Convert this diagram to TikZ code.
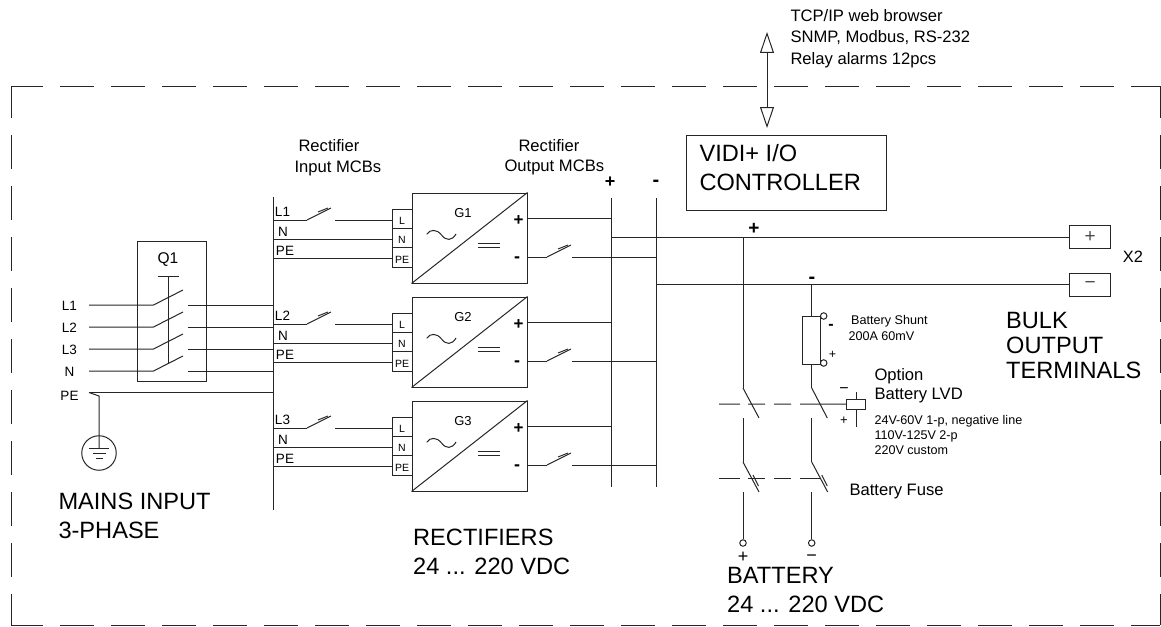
\documentclass[tikz,border=0pt]{standalone}
\usepackage{fontspec}
\usepackage{amsmath}
\usepackage{xcolor}
\usepackage{tikz}
\usetikzlibrary{arrows.meta}
\setmainfont{Liberation Sans}

\colorlet{wire}{black!85}
\tikzset{
	txt/.style={anchor=base west,inner sep=0pt,text=black},
	bigtxt/.style={txt,align=left,font=\fontsize{23.6}{29}\selectfont},
	midtxt/.style={txt,align=left,font=\fontsize{16.6}{21.5}\selectfont},
	smalltxt/.style={txt,align=left,font=\fontsize{12.6}{15}\selectfont},
	sign/.style={anchor=center,inner sep=0pt,font=\fontsize{#1}{#1}\selectfont},
	frame/.style={wire,dash pattern=on 34pt off 17pt,dash phase=2pt},
	tiedash/.style={wire,dash pattern=on 21pt off 8pt on 17pt off 9pt on 17pt off 9pt on 60pt},
	termbox/.style={draw=wire,inner sep=0pt,minimum width=20pt,minimum height=19.3pt,
		text height=11pt,text depth=0pt,font=\fontsize{10.5}{10.5}\selectfont},
	outbox/.style={draw=wire,inner sep=0pt,minimum width=40.5pt,minimum height=23pt,
		text=black!70,font=\fontsize{19}{19}\selectfont},
	conv/.style={draw=wire,inner sep=0pt,minimum width=115pt,minimum height=90pt},
	mcb/.pic={
		\draw[wire] (0,0) -- (24,-12);
		\draw[wire] (11,-8) -- (21,-12);
	},
	fuse/.pic={
		\draw[wire] (0,0) -- (16,30);
		\draw[wire] (10,13) -- (15.5,24);
	},
	port/.style={draw=wire,circle,inner sep=0pt,minimum size=6.5pt,fill=white},
}

\begin{document}
\begin{tikzpicture}[x=1pt,y=-1pt,line width=1pt,line cap=butt]
	\useasboundingbox (0,0) rectangle (1161,626);

	% enclosure
	\coordinate (tl) at (11,86);
	\coordinate (tr) at (1160,86);
	\coordinate (bl) at (11,625);
	\coordinate (br) at (1160,625);
	\draw[frame] (tl) -- (tr);
	\draw[frame] (bl) -- (br);
	\draw[frame] (tl) -- (bl);
	\draw[frame] (tr) -- (br);

	% controller
	\node[draw=wire,inner sep=0pt,minimum width=200.5pt,minimum height=74.5pt] (ctrl) at (786.4,173) {};
	\node[bigtxt,font=\fontsize{23.6}{28.5}\selectfont] (ctrltxt) at (699,190) {VIDI+ I/O\\CONTROLLER};
	\coordinate (ctrlport) at (767,128);
	\coordinate (netport) at (767,32);
	\draw[wire,{Triangle[open,length=21pt,width=14pt]}-{Triangle[open,length=21pt,width=14pt]}] (netport) -- (ctrlport);
	\node[midtxt] (nettxt) at (790,64) {TCP/IP web browser\\SNMP, Modbus, RS-232\\Relay alarms 12pcs};

	% mains breaker
	\node[draw=wire,inner sep=0pt,minimum width=69pt,minimum height=140pt] (qbox) at (171.5,311) {};
	\node[sign=15.5] (qlabel) at (168,260) {Q1};
	\coordinate (qbara) at (157.5,276);
	\coordinate (qbarb) at (179,276);
	\coordinate (qtop) at (168,276);
	\coordinate (qend) at (168,363);
	\draw[wire] (qbara) -- (qbarb);
	\draw[wire] (qtop) -- (qend);
	\coordinate (busintop) at (273,197);
	\coordinate (businend) at (273,510);
	\draw[wire] (busintop) -- (businend);
	\foreach \nm/\ypos in {L1/305,L2/327,L3/349,N/371}{
		\node[sign=13.5] (in\nm) at (69.5,\ypos+1) {\nm};
		\draw[wire] (89,\ypos) -- (153.5,\ypos) -- (183,\ypos-15);
		\draw[wire] (187.5,\ypos) -- (273,\ypos);
	}

	% earth
	\node[sign=13.5] (inPE) at (69.5,396) {PE};
	\coordinate (pestart) at (89,392.5);
	\coordinate (pebend) at (99,396);
	\coordinate (pebus) at (273,392.5);
	\node[draw=wire,circle,inner sep=0pt,minimum size=34.5pt] (earth) at (99,453) {};
	\draw[wire] (pestart) -- (pebend) -- (99,448);
	\draw[wire] (pestart) -- (pebus);
	\draw[wire] (89,448) -- (109,448);
	\draw[wire] (93,453) -- (105.5,453);
	\draw[wire] (96,458) -- (103,458);
	\node[bigtxt] (mainstxt) at (58,538) {MAINS INPUT\\3-PHASE};

	% rectifiers
	\node[midtxt] (inhead) at (298,151) {Rectifier};
	\node[midtxt] (inheadb) at (294,172) {Input MCBs};
	\node[midtxt] (outhead) at (518,151) {Rectifier};
	\node[midtxt] (outheadb) at (504,171) {Output MCBs};
	\foreach \row/\phase/\dy in {1/L1/0,2/L2/104,3/L3/208}{
		\begin{scope}[yshift=-\dy pt]
			\node[conv] (G\row) at (469.5,238) {};
			\draw[wire] (G\row.south west) -- (G\row.north east);
			\node[sign=13] (Gname\row) at (463,213) {G\row};
			\draw[wire] (426.7,234.3) .. controls (430,229) and (437,229) .. (441.5,235) .. controls (446,241) and (452,241) .. (456,234);
			\draw[wire] (478,243) -- (500,243);
			\draw[wire] (478,247) -- (500,247);
			\node[sign=17] (Gplus\row) at (518.5,220.5) {\textbf{+}};
			\node[sign=18] (Gminus\row) at (517,259.5) {\textbf{-}};
			% inputs
			\node[termbox] (tL\row) at (402,219) {L};
			\node[termbox] (tN\row) at (402,238.3) {N};
			\node[termbox] (tPE\row) at (402,257.6) {PE};
			\node[sign=13.5] (bL\row) at (282.5,212) {\phase};
			\node[sign=13.5] (bN\row) at (283,232) {N};
			\node[sign=13.5] (bPE\row) at (285,251) {PE};
			\draw[wire] (273,220) -- (307,220);
			\pic at (307,220) {mcb};
			\draw[wire] (335,220) -- (392,220);
			\draw[wire] (273,239) -- (392,239);
			\draw[wire] (273,258) -- (392,258);
			% outputs
			\draw[wire] (527,218) -- (611,218);
			\draw[wire] (527,257) -- (547,257);
			\pic at (547,257) {mcb};
			\draw[wire] (572,257) -- (656.5,257);
		\end{scope}
	}
	\node[bigtxt] (recttxt) at (412.7,574) {RECTIFIERS\\24 ... 220 VDC};

	% dc buses
	\coordinate (busp) at (611,198);
	\coordinate (buspend) at (611,487);
	\coordinate (busm) at (656.5,198);
	\coordinate (busmend) at (656.5,487);
	\draw[wire] (busp) -- (buspend);
	\draw[wire] (busm) -- (busmend);
	\node[sign=18] (busplabel) at (610,182) {\textbf{+}};
	\node[sign=20] (busmlabel) at (656,183.5) {\textbf{-}};

	% output terminals
	\node[outbox] (xplus) at (1090.2,236.8) {+};
	\node[outbox] (xminus) at (1090.2,284.5) {\textminus};
	\node[sign=16.4] (xname) at (1133,257) {X2};
	\coordinate (pjoin) at (611,237);
	\coordinate (mjoin) at (656.5,284.7);
	\draw[wire] (pjoin) -- (xplus.west |- pjoin);
	\draw[wire] (mjoin) -- (xminus.west |- mjoin);
	\node[bigtxt,font=\fontsize{23.6}{24.6}\selectfont] (bulktxt) at (1005.7,378) {BULK\\OUTPUT\\TERMINALS};
	\node[sign=19] (lineplus) at (754,229) {\textbf{+}};
	\node[sign=20] (lineminus) at (812,280) {\textbf{-}};

	% battery legs
	\coordinate (legp) at (743,237);
	\coordinate (legm) at (811.7,285);
	\node[draw=wire,inner sep=0pt,minimum width=17.7pt,minimum height=48pt] (shunt) at (811.2,340) {};
	\node[port] (shunta) at (823.7,316) {};
	\node[port] (shuntb) at (823.7,363) {};
	\node[sign=16] (shuntm) at (831,327) {\textbf{-}};
	\node[sign=12.5] (shuntp) at (832.5,355) {+};
	\node[smalltxt] (shunttxt) at (850.7,324) {Battery Shunt};
	\node[smalltxt] (shunttxtb) at (848,340.7) {200A 60mV};
	\draw[wire] (legm) -- (shunt.north -| legm);
	\draw[wire] (shunt.south -| legm) -- (811.7,388);
	\draw[wire] (legp) -- (743,388);
	\draw[wire] (743,388) -- (759,418);
	\draw[wire] (811.7,388) -- (827.3,418);
	\draw[wire] (743,418) -- (743,462);
	\draw[wire] (811.7,418) -- (811.7,462);
	\pic at (743,462) {fuse};
	\pic at (811.7,462) {fuse};
	\node[port] (battp) at (743,543) {};
	\node[port] (battm) at (811.7,543) {};
	\draw[wire] (743,492) -- (battp);
	\draw[wire] (811.7,492) -- (battm);
	\node[sign=18] (battplus) at (743,557.5) {+};
	\node[sign=18] (battminus) at (811.7,558) {\textminus};
	\node[bigtxt] (batttxt) at (726.7,612.7) {BATTERY\\24 ... 220 VDC};

	% disconnect and fuse
	\node[draw=wire,inner sep=0pt,minimum width=19.3pt,minimum height=10.3pt] (relay) at (856.3,404.2) {};
	\coordinate (lvdstart) at (719,404);
	\coordinate (relaytop) at (856.3,392);
	\coordinate (relaybot) at (856.3,426.7);
	\draw[tiedash] (lvdstart) -- (relay.west);
	\draw[wire] (relaytop) -- (relay.north);
	\draw[wire] (relay.south) -- (relaybot);
	\node[sign=16] (relaym) at (844,391) {\textminus};
	\node[sign=13] (relayp) at (844,421) {+};
	\coordinate (fusestart) at (719,478.3);
	\coordinate (fuseend) at (820,478.3);
	\draw[tiedash] (fusestart) -- (fuseend);
	\node[midtxt,font=\fontsize{16.6}{19}\selectfont] (lvdtxt) at (874,399) {Option\\Battery LVD};
	\node[smalltxt] (lvdnote) at (874,454) {24V-60V 1-p, negative line\\110V-125V 2-p\\220V custom};
	\node[midtxt] (fusetxt) at (849,495) {Battery Fuse};
\end{tikzpicture}
\end{document}
